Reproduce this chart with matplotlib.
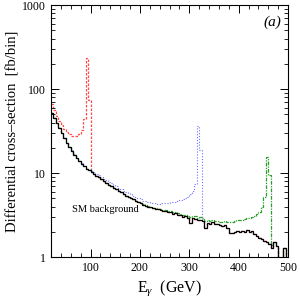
import matplotlib
matplotlib.use("Agg")
import matplotlib.pyplot as plt
import numpy as np

# photon energy bins, 5 GeV wide from 20 to 500 GeV
bin_lo = 20
bin_hi = 500
bin_w = 5

# SM background, fb/bin (0.001 = empty bin)
sm_bkg = [
    52, 45, 39, 34, 30, 26, 23, 20.5, 18.5, 16.5,
    15, 13.8, 12.8, 12, 11.3, 10.8, 10.3, 9.8, 9.3, 8.9,
    8.5, 8.1, 7.7, 7.3, 7.0, 6.7, 6.4, 6.1, 5.9, 5.6,
    5.4, 5.2, 5.0, 4.85, 4.7, 4.5, 4.35, 4.2, 4.1, 4.0,
    3.9, 3.8, 3.75, 3.7, 3.65, 3.55, 3.5, 3.45, 3.4, 3.3,
    3.35, 3.2, 3.15, 3.0, 3.05, 2.9, 2.55, 2.9, 2.85, 2.75,
    2.8, 2.7, 2.25, 2.55, 2.5, 2.6, 2.45, 2.5, 2.4, 2.35,
    2.4, 2.2, 1.95, 1.95, 2.0, 2.05, 2.0, 2.05, 2.0, 2.1,
    2.0, 2.05, 1.9, 1.8, 1.7, 1.65, 1.55, 1.5, 1.45, 1.3,
    1.5, 1.35, 0.001, 0.001, 1.3, 0.001,
]

# signal + background where it differs from SM
red_low = [66, 56, 48, 42, 37, 33.5, 31, 29, 28, 27.5,
           27.5, 29, 33, 44, 235, 75]                       # 20-95 GeV
blue_mid = [
    18.6, 16.8, 15.3, 14.1, 13.1, 12.3, 11.6, 11.1, 10.7, 10.2,
    9.8, 9.4, 9.0, 8.6, 8.2, 7.9, 7.6, 7.3, 7.0, 6.7,
    6.4, 6.2, 6.0, 5.8, 5.6, 5.4, 5.2, 5.0, 4.85, 4.7,
    4.6, 4.5, 4.45, 4.4, 4.4, 4.3, 4.4, 4.45, 4.35, 4.45,
    4.55, 4.5, 4.55, 4.65, 4.75, 4.85, 5.0, 5.2, 5.6, 6.2,
    7.5, 36, 19,
]                                                          # 60-320 GeV
green_mid = [
    4.4, 4.25, 4.15, 4.05, 3.95, 3.85, 3.8, 3.75, 3.7, 3.65,
    3.6, 3.55, 3.5, 3.45, 3.45, 3.35, 3.3, 3.15, 3.2, 3.1,
    3.0, 3.05, 3.1, 2.95, 3.0, 2.9, 2.7, 2.75, 2.7, 2.8,
    2.7, 2.7, 2.65, 2.65, 2.7, 2.6, 2.6, 2.65, 2.7, 2.75,
    2.75, 2.8, 2.85, 2.9, 2.95, 3.0, 3.1, 3.3, 3.4, 3.9,
    5.2, 15.5, 9.5, 1.4,
]                                                          # 200-465 GeV


def main() -> None:
    plt.rcParams["font.family"] = ["Liberation Serif", "DejaVu Serif"]
    plt.rcParams["mathtext.fontset"] = "custom"
    plt.rcParams["mathtext.rm"] = "Liberation Serif"
    plt.rcParams["mathtext.it"] = "Liberation Serif:italic"

    edges = np.arange(bin_lo, bin_hi + bin_w, bin_w)
    bkg = np.array(sm_bkg)
    i_blue = (60 - bin_lo) // bin_w
    i_green = (200 - bin_lo) // bin_w
    red = np.concatenate([red_low, bkg[len(red_low):]])
    blue = np.concatenate([bkg[:i_blue], blue_mid, bkg[i_blue + len(blue_mid):]])
    green = np.concatenate([bkg[:i_green], green_mid, bkg[i_green + len(green_mid):]])

    fig = plt.figure(figsize=(3, 3), dpi=100)
    ax = fig.add_axes([0.17, 0.143, 0.79, 0.84])

    ax.stairs(red, edges, baseline=None, color="#ff4d4d", lw=0.9, ls=(0, (2.0, 1.2)))
    ax.stairs(blue, edges, baseline=None, color="#6f6fff", lw=0.8, ls=(0, (1.0, 1.6)))
    ax.stairs(green, edges, baseline=None, color="#2ca02c", lw=0.9, ls=(0, (3, 1, 1, 1)))
    ax.stairs(bkg, edges, baseline=None, color="black", lw=0.9)

    ax.set_yscale("log")
    ax.set_xlim(20, 500)
    ax.set_ylim(1, 1000)
    ax.set_xticks([100, 200, 300, 400, 500])
    ax.set_xticks(np.arange(20, 500, 20), minor=True)
    ax.set_yticks([1, 10, 100, 1000])
    ax.set_yticklabels(["1", "10", "100", "1000"])
    ax.tick_params(which="both", direction="in", top=True, right=True, labelsize=8.5)
    ax.tick_params(which="major", length=6, width=0.7)
    ax.tick_params(which="minor", length=3, width=0.6)
    for s in ax.spines.values():
        s.set_linewidth(0.8)

    ax.set_xlabel(r"E$_\gamma$  (GeV)", fontsize=11.5, labelpad=3)
    ax.set_ylabel("Differential cross\u2013section  [fb/bin]", fontsize=10.5, labelpad=2)
    ax.text(0.97, 0.93, "(a)", transform=ax.transAxes, ha="right", va="center",
            fontsize=11, style="italic")
    ax.text(130, 3.7, "SM background", ha="center", va="center", fontsize=7.5)

    fig.savefig("out.png", dpi=100)
    plt.close(fig)


if __name__ == "__main__":
    main()
